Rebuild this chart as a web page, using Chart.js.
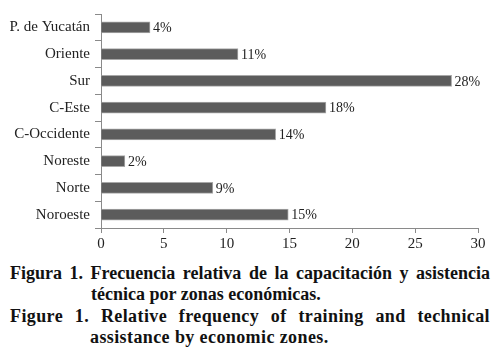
<!DOCTYPE html>
<html><head><meta charset="utf-8">
<script src="https://cdn.jsdelivr.net/npm/chart.js@4/dist/chart.umd.min.js"></script>
<style>
html,body{margin:0;padding:0;background:#fff;width:497px;height:358px;overflow:hidden}
#wrap{position:absolute;left:0;top:0;width:497px;height:260px}
.cap{position:absolute;font-family:"Liberation Serif","Times New Roman",serif;font-weight:bold;font-size:18px;color:#111;white-space:nowrap;line-height:20px}
.j{text-align:justify;text-align-last:justify;white-space:normal}
.en{letter-spacing:0.4px}
.pre{position:absolute;left:-999px;font-family:"Liberation Serif";}
</style></head><body>
<span class="pre">x</span>
<div id="wrap"><canvas id="c" width="497" height="260"></canvas></div>
<div class="cap j" style="left:10px;top:263px;width:480px">Figura 1. Frecuencia relativa de la capacitación y asistencia</div>
<div class="cap" style="left:91px;top:284px">técnica por zonas económicas.</div>
<div class="cap j en" style="left:10px;top:306px;width:480px">Figure 1. Relative frequency of training and technical</div>
<div class="cap en" style="left:90px;top:327px">assistance by economic zones.</div>
<script>
const categories = ["P. de Yucatán","Oriente","Sur","C-Este","C-Occidente","Noreste","Norte","Noroeste"];
const values = [3.9, 10.9, 27.9, 17.9, 13.9, 1.9, 8.9, 14.9];
const valueLabels = ["4%","11%","28%","18%","14%","2%","9%","15%"];
const xTicks = [0,5,10,15,20,25,30];
const FONT = '"Liberation Serif", "Times New Roman", serif';

const labelPlugin = {
  id:'vlabels',
  afterDatasetsDraw(chart){
    const ctx = chart.ctx;
    const meta = chart.getDatasetMeta(0);
    ctx.save();
    ctx.font = '14px ' + FONT;
    ctx.fillStyle = '#222';
    ctx.textBaseline = 'middle';
    ctx.textAlign = 'left';
    meta.data.forEach((bar,i)=>{
      ctx.fillText(valueLabels[i], bar.x + 3, bar.y + 1);
    });
    ctx.restore();
  }
};

function draw(){
new Chart(document.getElementById('c'),{
  type:'bar',
  data:{labels:categories,datasets:[{data:values,backgroundColor:'#5c5c5c',borderColor:'#a8a8a8',borderWidth:1,borderSkipped:'left',barThickness:11}]},
  options:{
    indexAxis:'y',responsive:false,animation:false,
    layout:{padding:{top:13,right:19,left:0,bottom:0}},
    plugins:{legend:{display:false},tooltip:{enabled:false}},
    scales:{
      y:{
        grid:{display:true,drawOnChartArea:false,offset:true,tickLength:6,color:'#8a8a8a'},
        border:{color:'#8a8a8a'},
        ticks:{color:'#222',font:{family:FONT,size:15},padding:5},
        afterFit(s){s.width=101;}
      },
      x:{
        min:0,max:30,
        afterBuildTicks(s){s.ticks = xTicks.map(v=>({value:v}));},
        grid:{display:true,drawOnChartArea:false,tickLength:5,color:'#8a8a8a'},
        border:{color:'#8a8a8a'},
        ticks:{color:'#222',font:{family:FONT,size:15},padding:2,maxRotation:0},
        afterFit(s){s.height=32;}
      }
    }
  },
  plugins:[labelPlugin]
});
}
if (document.fonts && document.fonts.load) {
  Promise.all([document.fonts.load('15px "Liberation Serif"'), document.fonts.load('bold 18px "Liberation Serif"')]).then(draw, draw);
} else draw();
</script>
</body></html>
